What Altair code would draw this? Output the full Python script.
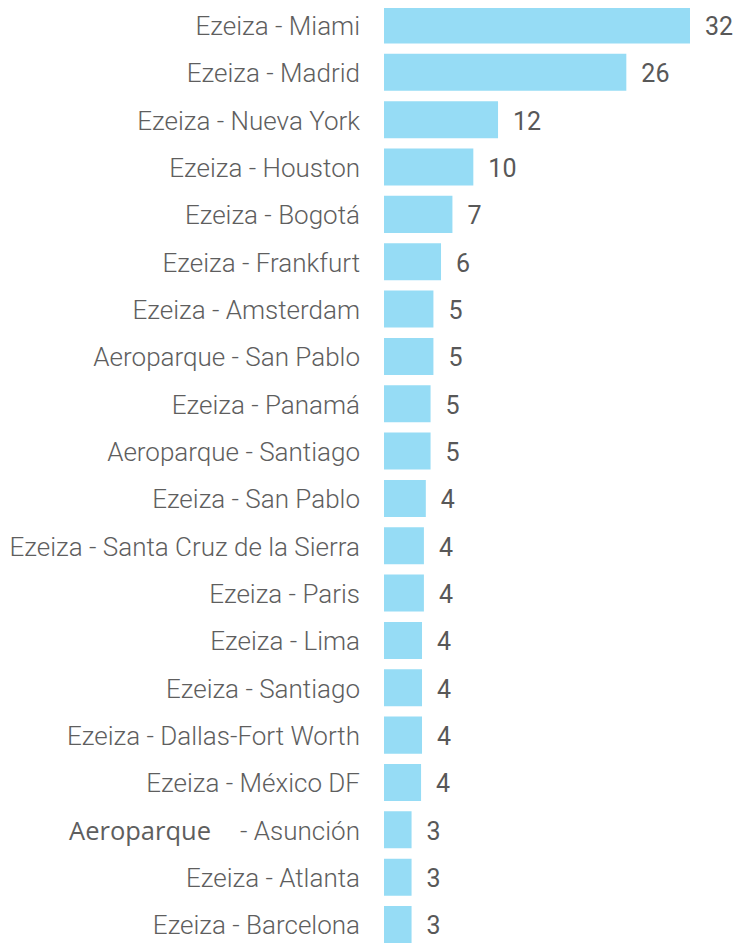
import altair as alt
import pandas as pd

routes = [
    "Ezeiza - Miami",
    "Ezeiza - Madrid",
    "Ezeiza - Nueva York",
    "Ezeiza - Houston",
    "Ezeiza - Bogotá",
    "Ezeiza - Frankfurt",
    "Ezeiza - Amsterdam",
    "Aeroparque - San Pablo",
    "Ezeiza - Panamá",
    "Aeroparque - Santiago",
    "Ezeiza - San Pablo",
    "Ezeiza - Santa Cruz de la Sierra",
    "Ezeiza - Paris",
    "Ezeiza - Lima",
    "Ezeiza - Santiago",
    "Ezeiza - Dallas-Fort Worth",
    "Ezeiza - México DF",
    "Aeroparque - Asunción",
    "Ezeiza - Atlanta",
    "Ezeiza - Barcelona",
]
# bar lengths
bar_values = [32.2, 25.5, 12.0, 9.4, 7.2, 6.0, 5.2, 5.2, 4.9, 4.9,
              4.4, 4.2, 4.2, 4.0, 4.0, 4.0, 3.9, 2.9, 2.9, 2.9]
# numbers printed next to the bars
value_labels = [32, 26, 12, 10, 7, 6, 5, 5, 5, 5, 4, 4, 4, 4, 4, 4, 4, 3, 3, 3]
# label prefixes drawn in a separate font in the original
label_prefixes = {"Aeroparque - Asunción": "Aeroparque"}

rows = []
for r, v, l in zip(routes, bar_values, value_labels):
    prefix = label_prefixes.get(r, "")
    main = r[len(prefix):].strip() if prefix else r
    rows.append(dict(route=r, value=v, label=str(l), main=main, prefix=prefix))
df = pd.DataFrame(rows)

y = alt.Y(
    "route:N",
    sort=routes,
    axis=None,
    scale=alt.Scale(range=[-1.5, 935], paddingInner=0.218, paddingOuter=0),
)
x = alt.X("value:Q", axis=None, scale=alt.Scale(domain=[0, 32.2], nice=False))

base = alt.Chart(df)

bars = base.mark_bar(color="#96dcf5").encode(x=x, y=y)

nums = base.mark_text(
    align="left", baseline="middle", dx=15, dy=2, font="Roboto", fontSize=25,
    color="#585858"
).encode(x=x, y=y, text="label:N")

labels = base.mark_text(
    align="right", baseline="middle", dx=-24, dy=2, font="Roboto", fontWeight=300,
    fontSize=26, color="#5e5e5e"
).encode(x=alt.value(0), y=y, text="main:N")

prefixes = base.transform_filter("datum.prefix != ''").mark_text(
    align="right", baseline="middle", dx=-173, dy=2, font="Open Sans",
    fontSize=25.5, color="#5e5e5e"
).encode(x=alt.value(0), y=y, text="prefix:N")

chart = (
    alt.layer(bars, nums, labels, prefixes)
    .properties(
        width=306,
        height=935,
        autosize=alt.AutoSizeParams(type="none"),
        padding={"left": 376, "top": 0, "right": 48, "bottom": 0},
    )
    .configure_view(stroke=None)
)

chart.save("out.html", embed_options={"renderer": "svg", "actions": False})
